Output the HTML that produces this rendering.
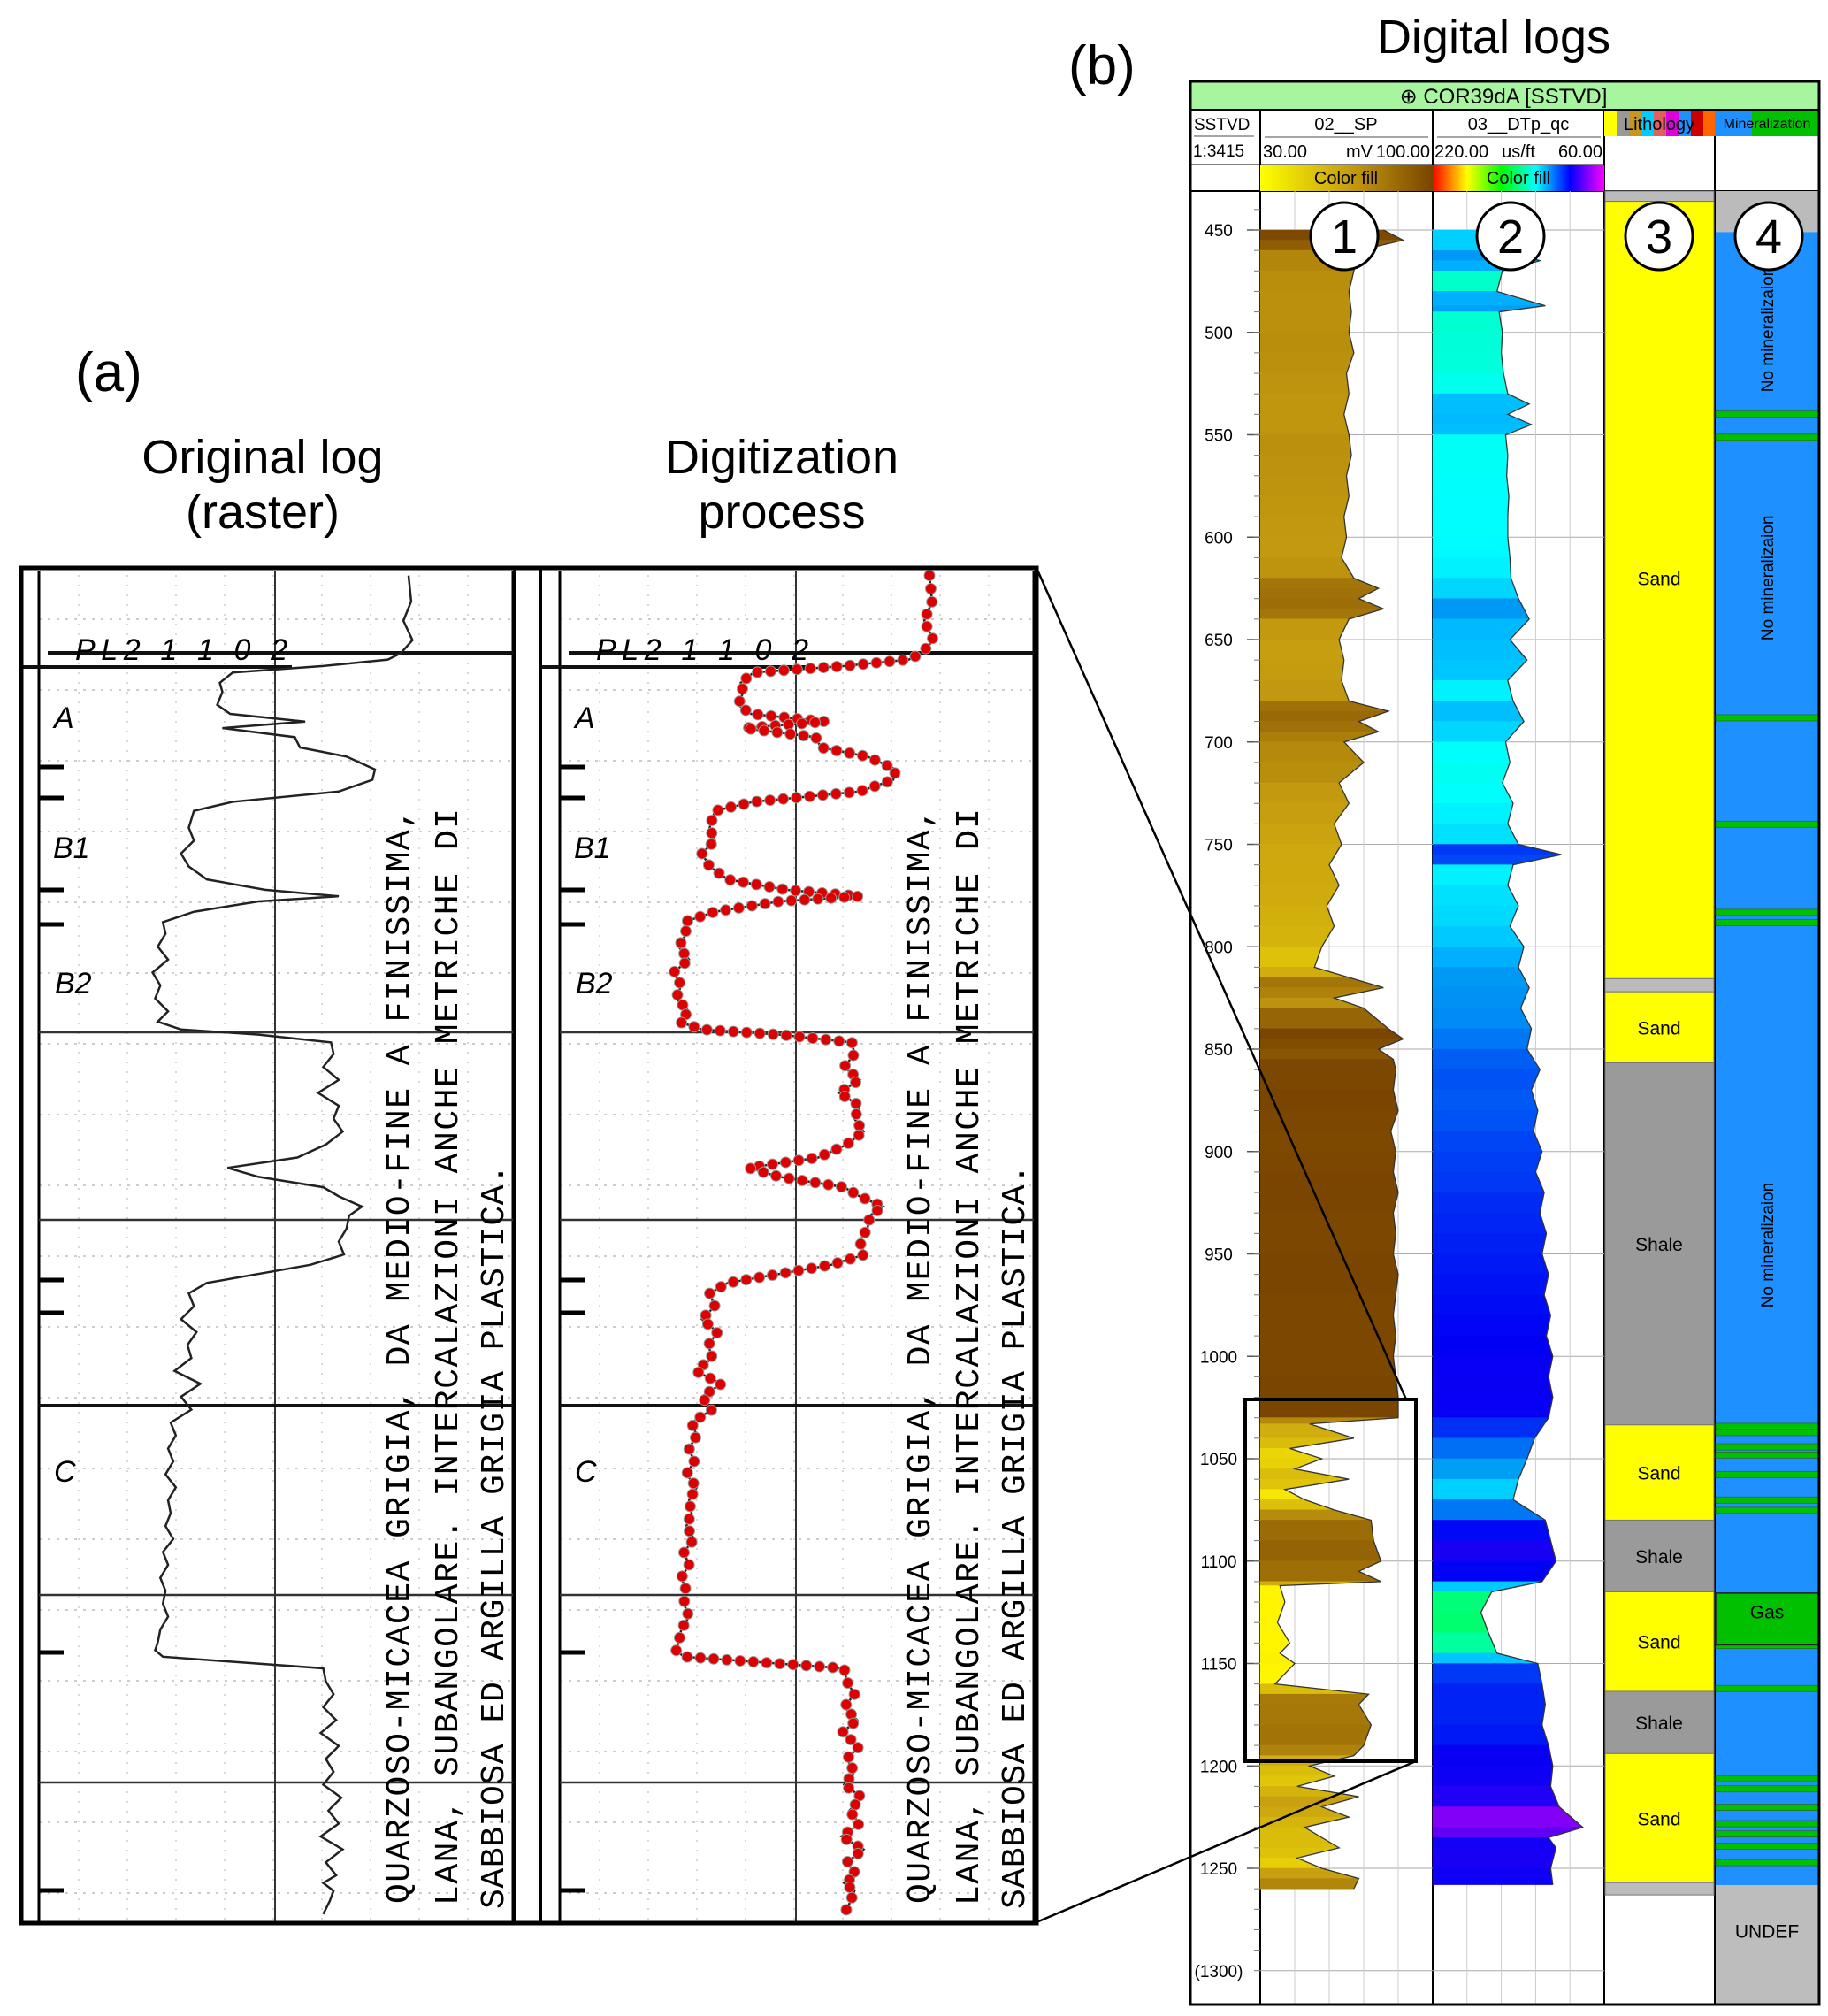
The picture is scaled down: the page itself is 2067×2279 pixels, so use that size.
<!DOCTYPE html>
<html><head><meta charset="utf-8">
<style>
html,body{margin:0;padding:0;background:#fff;}
svg{display:block;font-family:"Liberation Sans",sans-serif;}
</style></head>
<body>
<svg id="fig" width="2067" height="2279" viewBox="0 0 2067 2279" xmlns="http://www.w3.org/2000/svg">
<defs>
<linearGradient id="spGrad" x1="0" x2="1" y1="0" y2="0"><stop offset="0" stop-color="#ffff00"/><stop offset="0.5" stop-color="#c8a010"/><stop offset="1" stop-color="#7a4500"/></linearGradient>
<linearGradient id="dtGrad" x1="0" x2="1" y1="0" y2="0"><stop offset="0" stop-color="#ff0000"/><stop offset="0.2" stop-color="#ffff00"/><stop offset="0.4" stop-color="#00ff00"/><stop offset="0.6" stop-color="#00ffff"/><stop offset="0.8" stop-color="#0000ff"/><stop offset="1" stop-color="#ff00ff"/></linearGradient>
</defs>
<text x="85" y="442" font-size="62">(a)</text>
<text x="297" y="535" font-size="54" text-anchor="middle">Original log</text>
<text x="297" y="597" font-size="54" text-anchor="middle">(raster)</text>
<text x="884" y="535" font-size="54" text-anchor="middle">Digitization</text>
<text x="884" y="597" font-size="54" text-anchor="middle">process</text>
<text x="1208" y="95" font-size="62">(b)</text>
<text x="1689" y="60" font-size="54" text-anchor="middle">Digital logs</text>
<g id="pa"></g>
<g id="pb"></g>
<g id="lead"></g>
</svg>
<script>
const spDepth=[450,455,460,470,480,490,500,510,520,530,540,550,560,570,580,590,600,610,620,625,630,635,640,650,660,670,680,685,690,695,700,710,720,730,740,750,760,770,780,790,800,810,815,820,825,830,840,845,850,855,860,870,880,890,900,910,920,930,940,950,960,970,980,990,1000,1010,1020,1030,1033,1040,1045,1050,1055,1060,1065,1070,1075,1080,1090,1100,1105,1110,1112,1120,1130,1140,1145,1150,1160,1165,1170,1180,1190,1195,1200,1205,1210,1215,1220,1225,1230,1240,1245,1250,1255,1260];
const spValue=[80,88,70,68,66,67,66,68,65,66,64,66,67,65,66,64,65,63,68,78,70,80,66,62,64,63,66,82,70,78,64,72,62,66,60,63,58,62,57,60,55,52,66,80,60,72,82,88,78,84,85,84,86,83,85,84,86,84,85,84,86,85,84,85,84,85,86,86,50,68,42,55,44,66,40,48,60,75,76,79,70,79,38,40,37,42,38,44,36,74,70,75,72,68,50,60,45,70,55,66,48,62,45,55,70,68];
const dtDepth=[450,455,460,465,470,480,487,490,500,510,520,530,535,540,545,550,560,570,580,590,600,610,620,630,640,650,660,670,680,690,700,710,720,730,740,750,755,760,770,780,790,800,810,820,830,840,850,860,870,880,890,900,910,920,930,940,950,960,970,980,990,1000,1010,1020,1030,1040,1050,1060,1070,1080,1090,1100,1110,1115,1125,1135,1145,1150,1160,1170,1180,1190,1200,1210,1220,1230,1235,1240,1250,1258];
const dtValue=[150,135,150,120,155,160,115,158,155,156,154,150,130,150,128,152,150,151,149,150,150,148,147,140,130,148,132,150,145,135,152,148,155,145,150,140,100,145,150,140,148,135,140,130,138,128,132,120,128,122,126,118,124,116,120,114,118,112,116,110,114,108,112,108,112,125,132,140,145,115,110,105,118,165,175,168,160,122,118,115,118,112,108,110,102,80,112,105,110,108];
const lithTop=[431,436,815.6,822,856.7,1033.5,1080,1115,1163.6,1194,1257];
const lithBase=[436,815.6,822,856.7,1033.5,1080,1115,1163.6,1194,1257,1263];
const lithType=["undef","Sand","undef","Sand","Shale","Sand","Shale","Sand","Shale","Sand","undef"];
const minStripes=[539.7,551,688,740,783,788,1034,1037,1044,1048,1057.5,1070,1075,1141,1162,1206,1211,1220,1228,1233,1239,1247];
const depthTicks=[450,500,550,600,650,700,750,800,850,900,950,1000,1050,1100,1150,1200,1250];
const rasY=[445,465,480,495,505,510,515,520,528,535,545,552,558,563,570,578,585,595,603,612,620,627,640,650,660,670,680,688,693,697,705,713,722,732,742,752,762,772,782,790,796,800,806,815,825,835,845,855,865,875,885,895,903,910,918,925,933,940,950,960,970,978,985,992,1000,1010,1020,1030,1040,1050,1060,1070,1080,1090,1100,1110,1120,1130,1140,1150,1160,1170,1180,1190,1200,1210,1220,1230,1240,1250,1260,1270,1276,1281,1290,1300,1310,1320,1330,1340,1350,1360,1370,1380,1390,1400,1410,1420,1430,1440,1450,1456,1462,1470,1480];
const rasX=[316,318,312,319,310,300,250,180,170,172,168,178,236,172,228,232,268,290,288,262,180,150,146,150,140,146,160,205,262,200,150,126,128,122,130,118,124,120,130,122,140,200,256,258,250,262,246,262,258,265,252,230,176,200,250,262,280,270,268,262,266,240,200,160,146,150,140,152,145,148,135,155,140,148,132,136,130,134,128,136,130,132,128,134,126,130,124,128,126,130,124,122,120,126,250,252,258,250,260,248,262,252,258,250,264,254,262,248,265,252,260,250,258,255,250,180,135,125];
const labelTxt=["QUARZOSO-MICACEA GRIGIA, DA MEDIO-FINE A FINISSIMA,","LANA, SUBANGOLARE. INTERCALAZIONI ANCHE METRICHE DI","SABBIOSA ED ARGILLA GRIGIA PLASTICA."];

const NS="http://www.w3.org/2000/svg";
function mk(parent,tag,attrs,txt){const e=document.createElementNS(NS,tag);for(const k in attrs)e.setAttribute(k,attrs[k]);if(txt!==undefined)e.textContent=txt;parent.appendChild(e);return e;}
const S=1.462;
const Y=d=>260+(d-450)*2.315;
const SX=v=>1425+(v-30)/70*195;
const DX=v=>1620+(220-v)/160*194;
function lerp(a,b,t){return a+(b-a)*t;}
function spColor(v){let t=Math.max(0,Math.min(1,(v-40)/45));let c0,c1,u;
 if(t<0.5){c0=[255,245,0];c1=[200,160,16];u=t/0.5;}else{c0=[200,160,16];c1=[122,69,0];u=(t-0.5)/0.5;}
 return `rgb(${Math.round(lerp(c0[0],c1[0],u))},${Math.round(lerp(c0[1],c1[1],u))},${Math.round(lerp(c0[2],c1[2],u))})`;}
function dtColor(v){const t=(220-v)/160;const h=70+t*250;return `hsl(${Math.max(0,Math.min(300,h))},100%,${h>200?48:50}%)`;}

const pb=document.getElementById('pb');
mk(pb,'rect',{x:1346,y:92,width:711,height:32,fill:'#a8f5a0'});
let t=mk(pb,'text',{x:1700,y:117,'font-size':24,'text-anchor':'middle'},'⊕ COR39dA [SSTVD]');


const colX=[1346,1425,1620,1814,1939,2057];
mk(pb,'rect',{x:1346,y:124,width:711,height:92,fill:'#fff'});
for(let i=1;i<colX.length-1;i++) mk(pb,'line',{x1:colX[i],y1:124,x2:colX[i],y2:2266,stroke:'#000','stroke-width':2});
mk(pb,'line',{x1:1346,y1:216,x2:2057,y2:216,stroke:'#000','stroke-width':2});
mk(pb,'line',{x1:1346,y1:186,x2:1814,y2:186,stroke:'#000','stroke-width':1});
mk(pb,'text',{x:1350,y:147,'font-size':19},'SSTVD');
mk(pb,'line',{x1:1350,y1:154,x2:1418,y2:154,stroke:'#888','stroke-width':1.5});
mk(pb,'text',{x:1349,y:177,'font-size':19},'1:3415');
mk(pb,'text',{x:1522,y:147,'font-size':20,'text-anchor':'middle'},'02__SP');
mk(pb,'line',{x1:1430,y1:155,x2:1615,y2:155,stroke:'#888','stroke-width':1.5});
mk(pb,'text',{x:1428,y:178,'font-size':20},'30.00');
mk(pb,'text',{x:1522,y:178,'font-size':20},'mV');
mk(pb,'text',{x:1617,y:178,'font-size':20,'text-anchor':'end'},'100.00');
mk(pb,'rect',{x:1425,y:186,width:195,height:30,fill:'url(#spGrad)'});
mk(pb,'text',{x:1522,y:208,'font-size':20,'text-anchor':'middle'},'Color fill');
mk(pb,'text',{x:1717,y:147,'font-size':20,'text-anchor':'middle'},'03__DTp_qc');
mk(pb,'line',{x1:1625,y1:155,x2:1810,y2:155,stroke:'#888','stroke-width':1.5});
mk(pb,'text',{x:1622,y:178,'font-size':20},'220.00');
mk(pb,'text',{x:1717,y:178,'font-size':20,'text-anchor':'middle'},'us/ft');
mk(pb,'text',{x:1812,y:178,'font-size':20,'text-anchor':'end'},'60.00');
mk(pb,'rect',{x:1620,y:186,width:194,height:30,fill:'url(#dtGrad)'});
mk(pb,'text',{x:1717,y:208,'font-size':20,'text-anchor':'middle'},'Color fill');
const litCols=['#ffff00','#999','#c8961e','#00ccff','#e06060','#dd00dd','#1e90ff','#cc0000','#ff6600'];
litCols.forEach((c,i)=>mk(pb,'rect',{x:1814+i*14,y:124,width:14,height:30,fill:c}));
mk(pb,'text',{x:1876,y:147,'font-size':20,'text-anchor':'middle'},'Lithology');
mk(pb,'rect',{x:1939,y:124,width:42,height:30,fill:'#1e90ff'});
mk(pb,'rect',{x:1981,y:124,width:76,height:30,fill:'#00c000'});
mk(pb,'text',{x:1998,y:145,'font-size':16,'text-anchor':'middle'},'Mineralization');

depthTicks.forEach(d=>{
 mk(pb,'line',{x1:1425,y1:Y(d),x2:1814,y2:Y(d),stroke:'#aaa','stroke-width':1});
 const tx=mk(pb,'text',{x:1378,y:Y(d)+7,'font-size':19,'text-anchor':'middle'},String(d));
 
 
 mk(pb,'line',{x1:1410,y1:Y(d),x2:1425,y2:Y(d),stroke:'#555','stroke-width':1.5});
});
for(let d=440;d<=1300;d+=10) mk(pb,'line',{x1:1418,y1:Y(d),x2:1425,y2:Y(d),stroke:'#777','stroke-width':1});
mk(pb,'text',{x:1378,y:Y(1300)+7,'font-size':19,'text-anchor':'middle'},'(1300)');
mk(pb,'line',{x1:1425,y1:Y(1300),x2:1814,y2:Y(1300),stroke:'#aaa','stroke-width':1});
for(let i=1;i<5;i++){mk(pb,'line',{x1:1425+i*39,y1:216,x2:1425+i*39,y2:2266,stroke:'#ccc','stroke-width':1});
 mk(pb,'line',{x1:1620+i*38.8,y1:216,x2:1620+i*38.8,y2:2266,stroke:'#ccc','stroke-width':1});}

const spG=mk(pb,'g',{});


for(let i=0;i<spDepth.length-1;i++){
 const y0=Y(spDepth[i]),y1=Y(spDepth[i+1]);
 const c=spColor((spValue[i]+spValue[i+1])/2);
 const p=mk(spG,'polygon',{points:`1425,${y0} ${SX(spValue[i])},${y0} ${SX(spValue[i+1])},${y1} 1425,${y1}`,fill:c,stroke:c,'stroke-width':0.6});
 
 
}
mk(spG,'polyline',{points:spDepth.map((d,i)=>SX(spValue[i])+','+Y(d)).join(' '),fill:'none',stroke:'#333','stroke-width':1.3});
const dtG=mk(pb,'g',{});


for(let i=0;i<dtDepth.length-1;i++){
 const y0=Y(dtDepth[i]),y1=Y(dtDepth[i+1]);
 const c=dtColor((dtValue[i]+dtValue[i+1])/2);
 const p=mk(dtG,'polygon',{points:`1620,${y0} ${DX(dtValue[i])},${y0} ${DX(dtValue[i+1])},${y1} 1620,${y1}`,fill:c,stroke:c,'stroke-width':0.6});
 
 
}
mk(dtG,'polyline',{points:dtDepth.map((d,i)=>DX(dtValue[i])+','+Y(d)).join(' '),fill:'none',stroke:'#333','stroke-width':1.3});

const litG=mk(pb,'g',{});


lithTop.forEach((d,i)=>{
 const c=lithType[i]==='Sand'?'#ffff00':lithType[i]==='Shale'?'#9a9a9a':'#bbb';
 const r=mk(litG,'rect',{x:1815,y:Y(d),width:123,height:Y(lithBase[i])-Y(d),fill:c,stroke:'#777','stroke-width':1});
 
 
 if(lithType[i]!=='undef'){
  let yc=(Y(d)+Y(lithBase[i]))/2+8; if(i===1) yc=Y(620)+8;
  mk(litG,'text',{x:1876,y:yc,'font-size':21,'text-anchor':'middle'},lithType[i]);
 }
});
const minG=mk(pb,'g',{});


mk(minG,'rect',{x:1940,y:Y(431),width:116,height:Y(451)-Y(431),fill:'#bbb'});
mk(minG,'rect',{x:1940,y:Y(451),width:116,height:Y(1258.3)-Y(451),fill:'#1e90ff'});
minStripes.forEach(d=>{const r=mk(minG,'rect',{x:1940,y:Y(d)-3,width:116,height:7,fill:'#00c000',stroke:'#2a6a2a','stroke-width':0.8});
 });
mk(minG,'rect',{x:1940,y:Y(1115.6),width:116,height:Y(1140.9)-Y(1115.6),fill:'#00c000',stroke:'#222','stroke-width':1.5});
mk(minG,'text',{x:1998,y:Y(1128),'font-size':21,'text-anchor':'middle'},'Gas');
mk(minG,'rect',{x:1940,y:Y(1258.3),width:116,height:2266-Y(1258.3),fill:'#bdbdbd'});
mk(minG,'text',{x:1998,y:Y(1284),'font-size':21,'text-anchor':'middle'},'UNDEF');
[498.6,619.9,945.7].forEach(d=>mk(minG,'text',{x:2005,y:Y(d),'font-size':19,'text-anchor':'middle',transform:`rotate(-90 2005 ${Y(d)})`},'No mineralizaion'));
mk(pb,'rect',{x:1346,y:92,width:711,height:2174,fill:'none',stroke:'#000','stroke-width':3});
mk(pb,'line',{x1:1346,y1:124,x2:2057,y2:124,stroke:'#000','stroke-width':2});
[[1520,'1'],[1708,'2'],[1876,'3'],[2000,'4']].forEach(([cx,n])=>{
 const c=mk(pb,'circle',{cx:cx,cy:267,r:38,fill:'#fff',stroke:'#000','stroke-width':3});
 
 mk(pb,'text',{x:cx,y:286,'font-size':54,'text-anchor':'middle'},n);
});
mk(pb,'rect',{x:1408,y:1582,width:193,height:409,fill:'none',stroke:'#000','stroke-width':4});

const pa=document.getElementById('pa');
mk(pa,'rect',{x:22,y:640,width:1150,height:1535,fill:'#fff'});
function half(ox,dots){
 const g=mk(pa,'g',{});
 
 
 const L=ox+44,R=ox+580;
 for(let y=700;y<2170;y+=80) mk(g,'line',{x1:L,y1:y,x2:R,y2:y,stroke:'#bbb','stroke-width':1.5,'stroke-dasharray':'3 7'});
 for(let x=L+45;x<R;x+=55) mk(g,'line',{x1:x,y1:650,x2:x,y2:2170,stroke:'#ccc','stroke-width':1.5,'stroke-dasharray':'2 9'});
 mk(g,'line',{x1:L,y1:645,x2:L,y2:2172,stroke:'#000','stroke-width':3});
 mk(g,'line',{x1:ox+311,y1:645,x2:ox+311,y2:2172,stroke:'#333','stroke-width':2});
 mk(g,'line',{x1:ox+580,y1:645,x2:ox+580,y2:2172,stroke:'#000','stroke-width':3});
 mk(g,'line',{x1:L+10,y1:738,x2:R,y2:738,stroke:'#111','stroke-width':4});
 mk(g,'line',{x1:ox+22,y1:754,x2:ox+330,y2:754,stroke:'#111','stroke-width':4});
 [1167,1379,1803,2015].forEach(y=>mk(g,'line',{x1:L,y1:y,x2:R,y2:y,stroke:'#333','stroke-width':2.5}));
 mk(g,'line',{x1:L,y1:1589,x2:R,y2:1589,stroke:'#111','stroke-width':4});
 [867,902,1006,1045,1447,1484,1868,2137].forEach(y=>mk(g,'line',{x1:L,y1:y,x2:L+28,y2:y,stroke:'#000','stroke-width':5}));
 mk(g,'text',{x:ox+85,y:746,'font-size':34,'font-style':'italic',textLength:240},'PL2 1 1 0 2');
 [['A',61,823],['B1',60,970],['B2',62,1123],['C',61,1675]].forEach(([s,x,y])=>mk(g,'text',{x:ox+x,y:y,'font-size':34,'font-style':'italic'},s));
 const cx=[449,504,556],y0=[2152,2154,2158],y1=[914,914,1316];
 labelTxt.forEach((s,i)=>{const bx=ox+cx[i]+13;const tx=mk(g,'text',{x:bx,y:y0[i],'font-size':38,'font-family':'Liberation Mono, monospace',transform:`rotate(-90 ${bx} ${y0[i]})`,textLength:y0[i]-y1[i],lengthAdjust:'spacing'},s);
  });
 const pts=rasY.map((y,i)=>[ox+rasX[i]*S,y*S]);
 mk(g,'polyline',{points:pts.map(p=>p.join(',')).join(' '),fill:'none',stroke:'#222','stroke-width':2.5});
 if(dots){
  let acc=0;const sp=15;
  for(let i=0;i<pts.length-1;i++){
   const dx=pts[i+1][0]-pts[i][0],dy=pts[i+1][1]-pts[i][1],len=Math.hypot(dx,dy);
   let s=acc;
   while(s<len){const c=mk(g,'circle',{cx:pts[i][0]+dx*s/len,cy:pts[i][1]+dy*s/len,r:6,fill:'#dd0000',stroke:'#999','stroke-width':1});
    s+=sp;}
   acc=s-len;
  }
 }
}
half(0,false);
half(589,true);
mk(pa,'rect',{x:582,y:642,width:29,height:1531,fill:'#fff'});
mk(pa,'line',{x1:582,y1:642,x2:582,y2:2173,stroke:'#000','stroke-width':4});
mk(pa,'line',{x1:611,y1:642,x2:611,y2:2173,stroke:'#000','stroke-width':4});
mk(pa,'rect',{x:24,y:642,width:1148,height:1532,fill:'none',stroke:'#000','stroke-width':5});
const lead=document.getElementById('lead');
mk(lead,'line',{x1:1172,y1:642,x2:1590,y2:1582,stroke:'#000','stroke-width':2.5});
mk(lead,'line',{x1:1172,y1:2173,x2:1601,y2:1991,stroke:'#000','stroke-width':2.5});
</script>
</body></html>
